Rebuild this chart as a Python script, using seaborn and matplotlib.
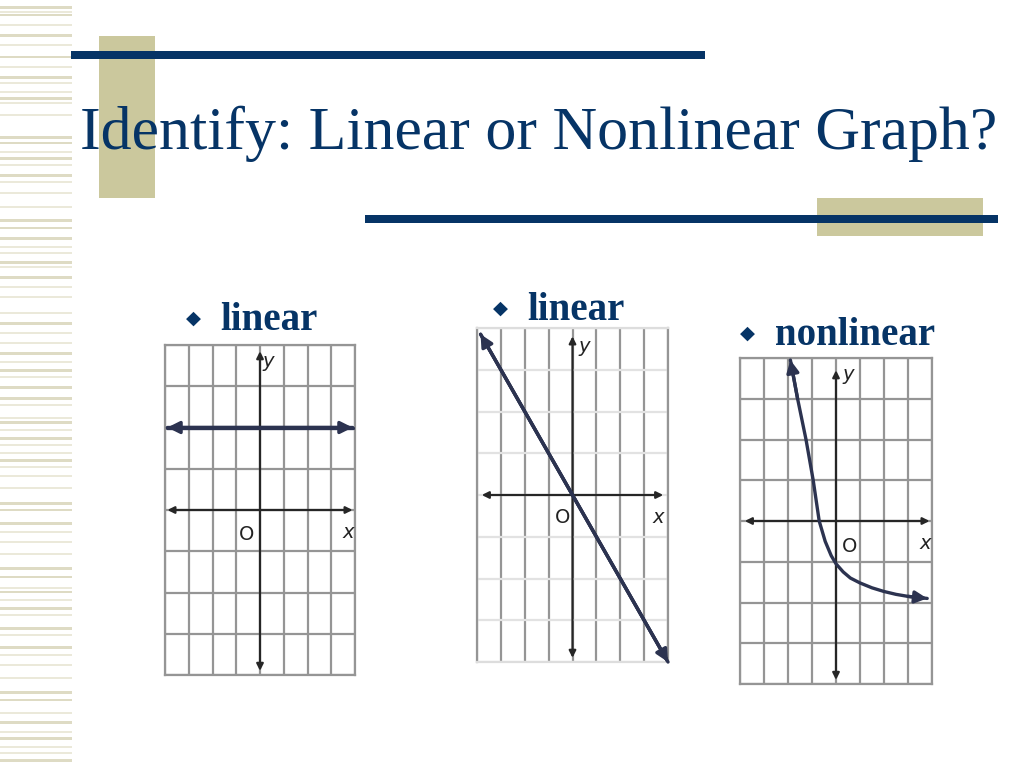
import matplotlib
matplotlib.use("Agg")
import matplotlib.pyplot as plt
import matplotlib.patches as mpatches
import seaborn as sns
import numpy as np

# ---------------- data ----------------
title_text = "Identify: Linear or Nonlinear Graph?"
panel_labels = ["linear", "linear", "nonlinear"]

# graph 1 : horizontal line y = 2
g1_x = [-3.9, 3.9]
g1_y = [2.0, 2.0]
# graph 2 : line through origin, slope -1
g2_x = [-3.85, 4.0]
g2_y = [3.85, -4.0]
# graph 3 : decaying curve
g3_x = [-1.9, -1.6, -1.25, -0.95, -0.7, -0.45, -0.2, 0.0, 0.3, 0.6, 1.0, 1.5, 2.0, 2.5, 3.0, 3.8]
g3_y = [3.95, 3.0, 2.0, 1.0, 0.0, -0.5, -0.85, -1.05, -1.25, -1.4, -1.52, -1.64, -1.73, -1.8, -1.85, -1.9]

axis_labels = ["O", "x", "y"]

# ---------------- style ----------------
sns.set_style("white")
plt.rcParams["font.family"] = ["Liberation Serif", "DejaVu Sans"]

NAVY = "#063466"
BEIGE = "#cbc89d"
STRIPE_DARK = "#dedbc4"
STRIPE_LIGHT = "#ebe9da"
GRID = "#959595"
AXIS = "#262626"
CURVE = "#2c3350"

W, H = 1024, 768
fig = plt.figure(figsize=(W / 100, H / 100), dpi=100)
fig.patch.set_facecolor("white")

# background / decoration axes in pixel coordinates
bg = fig.add_axes([0, 0, 1, 1], zorder=0)
bg.set_xlim(0, W)
bg.set_ylim(H, 0)
bg.axis("off")

# left stripes (y position, thickness, strength)
stripes = [
    (7, 3, 1), (12, 1.5, 0), (15, 1.5, 1), (25, 1.5, 0), (35, 3, 1), (45, 1.5, 0),
    (57, 2, 1), (67, 1.5, 0), (77, 3, 1), (83, 1.5, 0), (92, 1.5, 0), (98, 3, 1),
    (103, 1.5, 0), (115, 1.5, 0), (137, 3, 1), (143, 2, 1), (152, 1.5, 0), (158, 3, 1),
    (165, 1.5, 0), (175, 3, 1), (182, 1.5, 0), (193, 1.5, 0), (207, 1.5, 0),
    (220, 3, 1), (228, 2, 1), (238, 3, 1), (247, 1.5, 0), (253, 1.5, 0), (262, 3, 1),
    (267, 1.5, 0), (277, 3, 1), (287, 1.5, 0), (297, 1.5, 0), (313, 1.5, 0),
    (323, 3, 1), (333, 1.5, 0), (343, 1.5, 0), (353, 3, 1), (362, 1.5, 0),
    (370, 3, 1), (377, 1.5, 0), (387, 3, 1), (398, 3, 1), (405, 1.5, 0),
    (418, 1.5, 0), (422, 3, 1), (430, 1.5, 0), (438, 3, 1), (445, 1.5, 0),
    (453, 1.5, 0), (460, 3, 1), (467, 1.5, 0), (476, 1.5, 0), (488, 1.5, 0),
    (503, 3, 1), (510, 2, 1), (523, 3, 1), (532, 1.5, 0), (542, 1.5, 0),
    (554, 1.5, 0), (568, 3, 1), (577, 2, 1), (588, 1.5, 0), (592, 2, 1),
    (600, 1.5, 0), (608, 3, 1), (615, 1.5, 0), (628, 3, 1), (635, 1.5, 0),
    (647, 3, 1), (655, 1.5, 0), (665, 1.5, 0), (678, 1.5, 0), (692, 3, 1),
    (700, 2, 1), (713, 1.5, 0), (722, 3, 1), (732, 1.5, 0), (738, 3, 1),
    (747, 1.5, 0), (753, 1.5, 0), (760, 3, 1),
]
for y, t, s in stripes:
    bg.add_patch(mpatches.Rectangle((0, y - t / 2), 72, t,
                                    color=STRIPE_DARK if s else STRIPE_LIGHT, lw=0))

# beige blocks and navy rules
bg.add_patch(mpatches.Rectangle((99, 36), 56, 162, color=BEIGE, lw=0, zorder=1))
bg.add_patch(mpatches.Rectangle((817, 198), 166, 38, color=BEIGE, lw=0, zorder=1))
bg.add_patch(mpatches.Rectangle((71, 51), 634, 8, color=NAVY, lw=0, zorder=2))
bg.add_patch(mpatches.Rectangle((365, 215), 633, 8, color=NAVY, lw=0, zorder=2))

bg.text(80, 149, title_text, fontsize=44.6, color=NAVY, va="baseline", ha="left",
        family="Liberation Serif", zorder=3)

# bullet labels
bullet_pos = [(193, 330, 220), (500, 320, 527), (747, 345, 775)]
for (bx, base, tx), lab in zip(bullet_pos, panel_labels):
    bg.text(bx, base - 12, "\u25c6", fontsize=14, color=NAVY, ha="center", va="center",
            family="DejaVu Sans", zorder=3)
    bg.text(tx, base, lab, fontsize=28, fontweight="bold", color=NAVY, va="baseline",
            ha="left", family="Liberation Serif", zorder=3)

# ---------------- the three graphs ----------------
panels = [
    dict(box=(165, 345, 355, 675), x=g1_x, y=g1_y, xaxis=(-3.9, 3.9), yaxis=(-3.9, 3.85),
         lab=[(-0.55, -0.6), (3.7, -0.55), (0.35, 3.6)], hfaint=False),
    dict(box=(477, 328, 668, 662), x=g2_x, y=g2_y, xaxis=(-3.8, 3.8), yaxis=(-3.9, 3.8),
         lab=[(-0.42, -0.55), (3.6, -0.55), (0.5, 3.55)], hfaint=True),
    dict(box=(740, 358, 932, 684), x=g3_x, y=g3_y, xaxis=(-3.8, 3.9), yaxis=(-3.9, 3.7),
         lab=[(0.55, -0.63), (3.7, -0.56), (0.5, 3.6)], hfaint=False),
]

for p in panels:
    l, t, r, b = p["box"]
    ax = fig.add_axes([l / W, 1 - b / H, (r - l) / W, (b - t) / H], zorder=5)
    ax.set_xlim(-4, 4)
    ax.set_ylim(-4, 4)
    ax.set_xticks(range(-4, 5))
    ax.set_yticks(range(-4, 5))
    ax.set_xticklabels([])
    ax.set_yticklabels([])
    ax.tick_params(length=0)
    ax.xaxis.grid(True, color=GRID, lw=1.6)
    ax.yaxis.grid(True, color="#e2e2e2" if p["hfaint"] else GRID, lw=1.6)
    ax.set_axisbelow(True)
    for side, sp in ax.spines.items():
        sp.set_color("#dddddd" if (p["hfaint"] and side in ("top", "bottom")) else GRID)
        sp.set_linewidth(1.6)

    # coordinate axes with arrows
    ax.annotate("", xy=(p["xaxis"][1], 0), xytext=(p["xaxis"][0], 0),
                arrowprops=dict(arrowstyle="<|-|>", color=AXIS, lw=1.6,
                                mutation_scale=10, shrinkA=0, shrinkB=0),
                annotation_clip=False)
    ax.annotate("", xy=(0, p["yaxis"][1]), xytext=(0, p["yaxis"][0]),
                arrowprops=dict(arrowstyle="<|-|>", color=AXIS, lw=1.6,
                                mutation_scale=10, shrinkA=0, shrinkB=0),
                annotation_clip=False)

    # data line
    sns.lineplot(x=p["x"], y=p["y"], ax=ax, color=CURVE, lw=2.4, sort=False,
                 estimator=None, zorder=6)
    xs, ys = p["x"], p["y"]
    ax.annotate("", xy=(xs[0], ys[0]), xytext=(xs[1], ys[1]),
                arrowprops=dict(arrowstyle="-|>", color=CURVE, lw=2.4,
                                mutation_scale=18, shrinkA=0, shrinkB=0),
                annotation_clip=False, zorder=7)
    ax.annotate("", xy=(xs[-1], ys[-1]), xytext=(xs[-2], ys[-2]),
                arrowprops=dict(arrowstyle="-|>", color=CURVE, lw=2.4,
                                mutation_scale=18, shrinkA=0, shrinkB=0),
                annotation_clip=False, zorder=7)

    # axis letters
    for (lx, ly), txt in zip(p["lab"], axis_labels):
        ax.text(lx, ly, txt, fontsize=14, color="#222222", ha="center", va="center",
                family="DejaVu Sans", style="normal" if txt == "O" else "italic",
                zorder=8)

fig.savefig("out.png", dpi=100, facecolor="white")
